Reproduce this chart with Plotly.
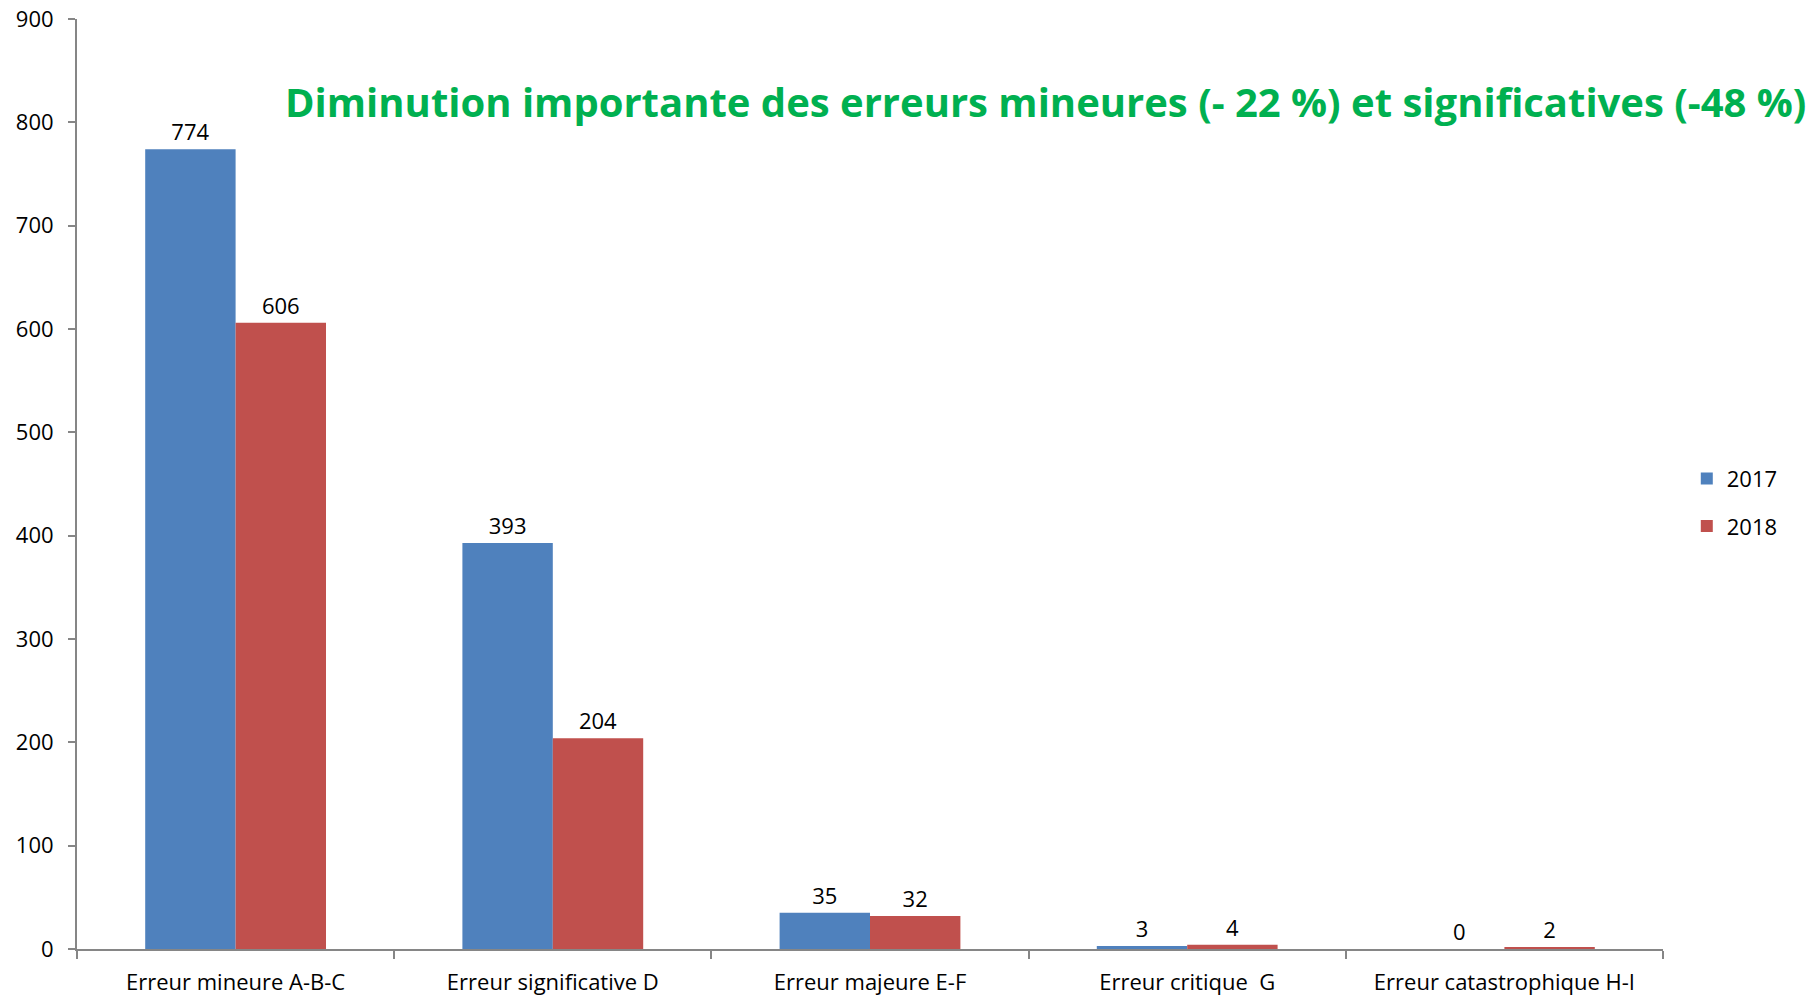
import plotly.graph_objects as go

categories = ["Erreur mineure A-B-C", "Erreur significative D", "Erreur majeure E-F",
              "Erreur critique  G", "Erreur catastrophique H-I"]
values_2017 = [774, 393, 35, 3, 0]
values_2018 = [606, 204, 32, 4, 2]
series_names = ["2017", "2018"]
y_ticks = [0, 100, 200, 300, 400, 500, 600, 700, 800, 900]
title_text = "Diminution importante des erreurs mineures (- 22 %) et significatives (-48 %)"

FONT = "'Open Sans', Lato, 'Noto Sans', sans-serif"
colors = ["#4F81BD", "#C0504D"]

fig = go.Figure()
for name, vals, col in zip(series_names, [values_2017, values_2018], colors):
    fig.add_trace(go.Bar(
        x=categories, y=vals, name=name, legendgroup=name,
        marker=dict(color=col, line=dict(width=0)),
        text=[str(v) for v in vals], textposition="outside",
        textfont=dict(size=22, color="#000000", family=FONT),
        cliponaxis=False,
    ))

fig.update_layout(
    width=1820, height=999,
    paper_bgcolor="white", plot_bgcolor="white",
    margin=dict(l=77, r=157, t=19, b=50, autoexpand=False),
    barmode="group", bargap=0.43, bargroupgap=0,
    font=dict(family=FONT, size=22, color="#000000"),
    showlegend=True,
    legend=dict(x=1.015, y=0.480, xanchor="left", yanchor="middle",
                font=dict(size=22, family=FONT), tracegroupgap=16,
                bgcolor="rgba(0,0,0,0)"),
    xaxis=dict(showline=True, linecolor="#868686", linewidth=2,
               ticks="outside", tickson="boundaries", ticklen=8,
               tickcolor="#868686", tickwidth=2, automargin=False,
               ticklabelstandoff=13, ticklabeloverflow="allow",
               tickfont=dict(size=22, family=FONT), showgrid=False),
    yaxis=dict(range=[0, 900], tickvals=y_ticks, showline=True,
               linecolor="#868686", linewidth=2, ticks="outside",
               ticklen=7, tickcolor="#868686", tickwidth=2, automargin=False,
               tickfont=dict(size=22, family=FONT), showgrid=False,
               zeroline=False, ticklabelstandoff=10, ticklabeloverflow="allow"),
    annotations=[dict(text="<b>" + title_text + "</b>", xref="paper", yref="paper",
                      x=0.130, y=0.911, xanchor="left", yanchor="middle",
                      showarrow=False,
                      font=dict(size=40, color="#00B050", family=FONT))],
)

# remove the default 8px page margin so the figure fills the 1820x999 window
fig.write_html("out.html", config={"displayModeBar": False},
               post_script="document.body.style.margin='0';document.body.style.overflow='hidden';")
